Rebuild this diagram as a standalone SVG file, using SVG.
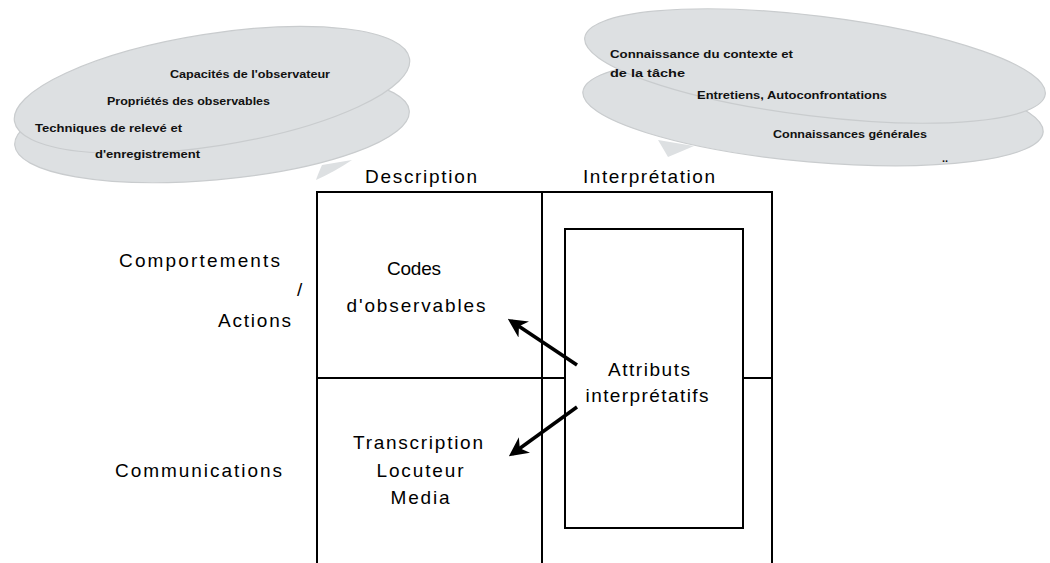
<svg xmlns="http://www.w3.org/2000/svg" width="1050" height="563" viewBox="0 0 1050 563">
<style>
.bub{fill:#dde0e2;stroke:#c9ccce;stroke-width:1.2}
.tail{fill:#dde0e2;stroke:none}
.sm{font-family:"Liberation Sans",Arial,sans-serif;font-size:11px;font-weight:bold;fill:#111}
.lb{font-family:"Liberation Sans",Arial,sans-serif;font-size:19px;fill:#000}
.ln{stroke:#000;stroke-width:2;fill:none}
.arr{stroke:#000;stroke-width:3.5;fill:none;marker-end:url(#ah)}
</style>
<defs>
<marker id="ah" viewBox="0 0 10 10" refX="8" refY="5" markerWidth="5.5" markerHeight="5.5" orient="auto" markerUnits="strokeWidth">
<path d="M0,0 L10,5 L0,10 L3,5 Z" fill="#000"/>
</marker>
</defs>
<rect width="1050" height="563" fill="#fff"/>
<g id="bubble-description">
<ellipse class="bub" cx="212" cy="128" rx="198" ry="52" transform="rotate(-5 212 128)"/>
<ellipse class="bub" cx="212" cy="90" rx="200" ry="56" transform="rotate(-9 212 90)"/>
<path class="tail" d="M322,165 Q318,174 316,180 Q334,172 352,160 Z"/>
<text class="sm" x="170" y="78" textLength="160" lengthAdjust="spacingAndGlyphs">Capacités de l'observateur</text>
<text class="sm" x="107" y="105" textLength="163" lengthAdjust="spacingAndGlyphs">Propriétés des observables</text>
<text class="sm" x="35" y="132" textLength="147" lengthAdjust="spacingAndGlyphs">Techniques de relevé et</text>
<text class="sm" x="95" y="158" textLength="105" lengthAdjust="spacingAndGlyphs">d'enregistrement</text>
</g>
<g id="bubble-interpretation">
<ellipse class="bub" cx="813" cy="112" rx="231" ry="50" transform="rotate(5 813 112)"/>
<ellipse class="bub" cx="815" cy="66" rx="232" ry="50" transform="rotate(7 815 66)"/>
<path class="tail" d="M658,140 Q664,150 668,157 Q680,152 694,146 Z"/>
<text class="sm" x="610" y="58" textLength="183" lengthAdjust="spacingAndGlyphs">Connaissance du contexte et</text>
<text class="sm" x="610" y="77" textLength="75" lengthAdjust="spacingAndGlyphs">de la tâche</text>
<text class="sm" x="697" y="99" textLength="190" lengthAdjust="spacingAndGlyphs">Entretiens, Autoconfrontations</text>
<text class="sm" x="773" y="138" textLength="154" lengthAdjust="spacingAndGlyphs">Connaissances générales</text>
<text class="sm" x="942" y="162">..</text>
</g>
<g id="grid">
<line class="ln" x1="317" y1="192" x2="772" y2="192"/>
<line class="ln" x1="317" y1="191" x2="317" y2="563"/>
<line class="ln" x1="542" y1="192" x2="542" y2="563"/>
<line class="ln" x1="772" y1="191" x2="772" y2="563"/>
<line class="ln" x1="317" y1="378" x2="772" y2="378"/>
</g>
<g id="col-description"><text class="lb" x="421" y="183" text-anchor="middle" textLength="112" lengthAdjust="spacing">Description</text></g>
<g id="col-interpretation"><text class="lb" x="649" y="183" text-anchor="middle" textLength="132" lengthAdjust="spacing">Interprétation</text></g>
<g id="row-comportements">
<text class="lb" x="119" y="267" textLength="161" lengthAdjust="spacing">Comportements</text>
<text class="lb" x="297" y="296" font-size="15">/</text>
<text class="lb" x="218" y="327" textLength="73" lengthAdjust="spacing">Actions</text>
</g>
<g id="row-communications"><text class="lb" x="115" y="477" textLength="167" lengthAdjust="spacing">Communications</text></g>
<g id="cell-codes">
<text class="lb" x="414" y="275" text-anchor="middle" textLength="54" lengthAdjust="spacing">Codes</text>
<text class="lb" x="416" y="312" text-anchor="middle" textLength="139" lengthAdjust="spacing">d'observables</text>
</g>
<g id="cell-transcription">
<text class="lb" x="418" y="449" text-anchor="middle" textLength="130" lengthAdjust="spacing">Transcription</text>
<text class="lb" x="420" y="477" text-anchor="middle" textLength="87" lengthAdjust="spacing">Locuteur</text>
<text class="lb" x="420" y="504" text-anchor="middle" textLength="59" lengthAdjust="spacing">Media</text>
</g>
<g id="attributs">
<rect x="565" y="229" width="178" height="299" fill="#fff" stroke="#000" stroke-width="2"/>
<text class="lb" x="649" y="376" text-anchor="middle" textLength="82" lengthAdjust="spacing">Attributs</text>
<text class="lb" x="647" y="402" text-anchor="middle" textLength="123" lengthAdjust="spacing">interprétatifs</text>
</g>
<g id="connectors">
<line class="arr" x1="577" y1="365" x2="511" y2="321"/>
<line class="arr" x1="577" y1="407" x2="512" y2="454"/>
</g>
</svg>
